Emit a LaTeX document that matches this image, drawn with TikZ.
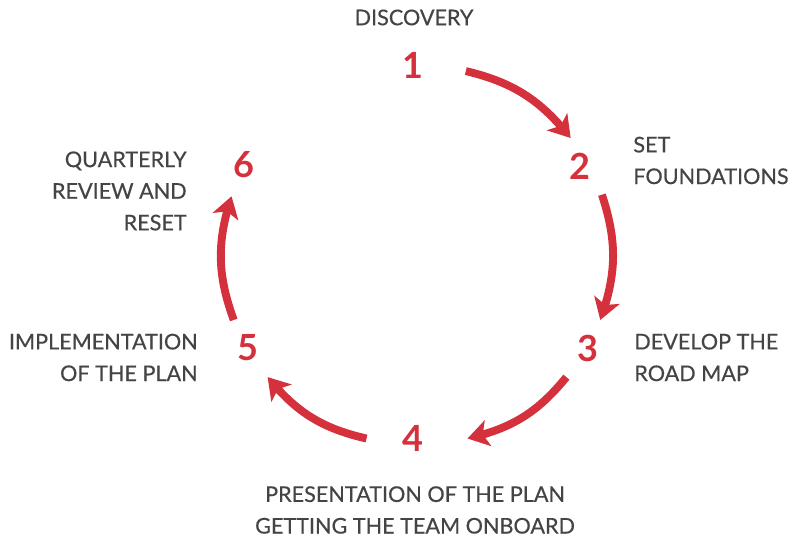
\documentclass[tikz,border=0pt]{standalone}
\usepackage{fontspec}
\setmainfont{Lato}
\newfontfamily\lblfont[FakeBold=0.45]{Lato}
\usetikzlibrary{arrows.meta,bending}
\definecolor{cycred}{HTML}{D4313D}
\definecolor{txtgray}{HTML}{444444}

\begin{document}
\begin{tikzpicture}[x=0.02cm,y=0.02cm,
        num/.style={text=cycred, font=\fontsize{20.5}{24}\selectfont\bfseries, inner sep=0pt},
        lbl/.style={text=txtgray, font=\lblfont\fontsize{12.3}{18}\selectfont, inner sep=0pt},
        cyc/.style={draw=cycred, line width=4.5pt, -{Stealth[length=12pt,width=15pt,inset=3pt]}}]
        \useasboundingbox (0,0) rectangle (792,540);
        \coordinate (c) at (417,285);

        % step numbers
        \node (n1) [num] at (413,475) {1};
        \node (n2) [num] at (580,374) {2};
        \node (n3) [num] at (588,192) {3};
        \node (n4) [num] at (413,102) {4};
        \node (n5) [num] at (248,192) {5};
        \node (n6) [num] at (244,375) {6};

        % step labels
        \node (l1) [lbl] at (414,522.5) {DISCOVERY};
        \node (l2) [lbl, anchor=west, align=left] at (633,379.5) {SET\\FOUNDATIONS};
        \node (l3) [lbl, anchor=west, align=left] at (634,182.5) {DEVELOP THE\\ROAD MAP};
        \node (l4) [lbl, align=center] at (415,30) {PRESENTATION OF THE PLAN\\GETTING THE TEAM ONBOARD};
        \node (l5) [lbl, anchor=east, align=right] at (198,182.5) {IMPLEMENTATION\\OF THE PLAN};
        \node (l6) [lbl, anchor=east, align=right] at (187,349) {QUARTERLY\\REVIEW AND\\RESET};

        % arrows round the ring
        \foreach \i/\a/\b in {1/75.5/38, 2/18.5/-20, 3/-40/-75, 4/255/220, 5/200/162} {
            \path (c) ++(\a:195 and 190) coordinate (s\i);
            \path (c) ++(\b:195 and 190) coordinate (e\i);
            \draw[cyc] (s\i) to[bend left=19] (e\i);
        }
    \end{tikzpicture}
\end{document}
